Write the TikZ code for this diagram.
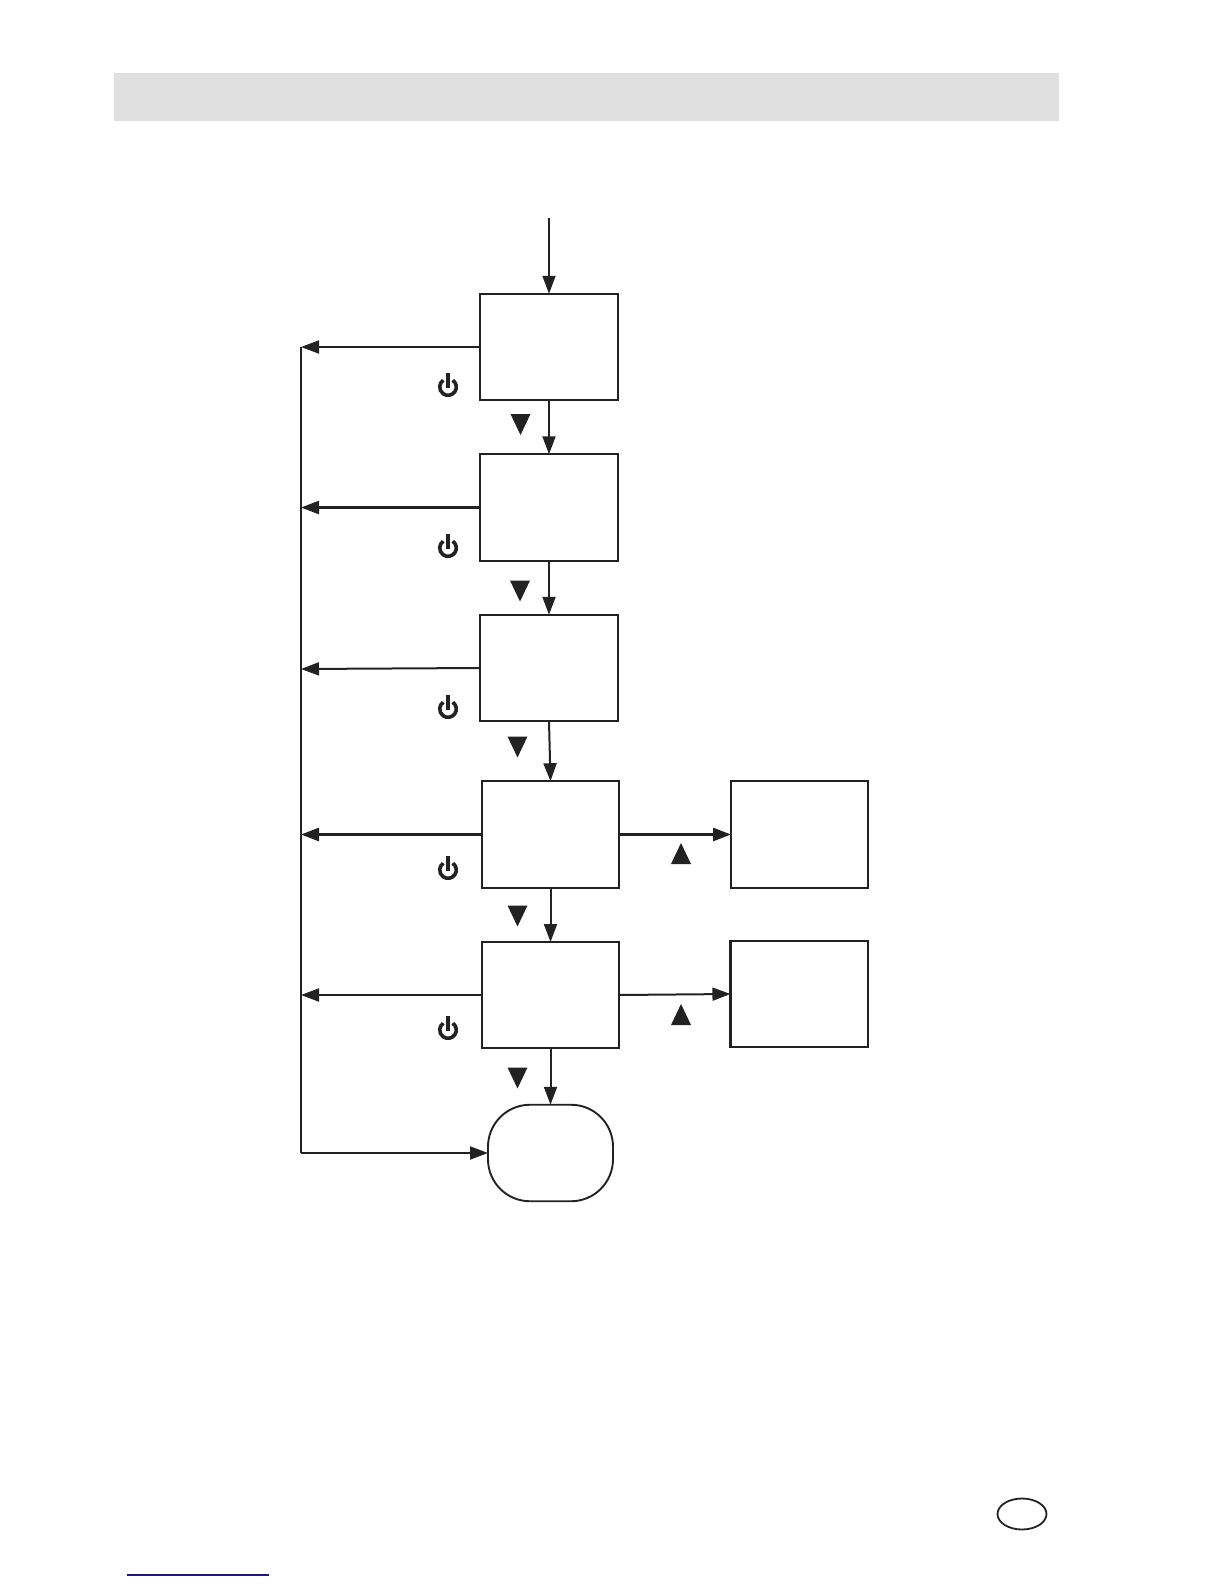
\documentclass[tikz,border=0pt]{standalone}
\usetikzlibrary{arrows.meta}
\definecolor{ink}{HTML}{222222}
\definecolor{band}{HTML}{E0E0E0}
\definecolor{linkblue}{HTML}{1A1A8C}
\tikzset{
  flowbox/.style={draw=ink,line width=1.9pt,rectangle,inner sep=0pt,outer sep=0pt,minimum width=138pt,minimum height=106.5pt},
  endbox/.style={draw=ink,line width=1.9pt,rectangle,rounded corners=42pt,inner sep=0pt,outer sep=0pt,minimum width=125pt,minimum height=96.5pt},
  conn/.style={draw=ink,line width=2pt,-{Triangle[length=18pt,width=13pt,fill=ink]}},
  thick conn/.style={conn,line width=2.8pt},
  trunk/.style={draw=ink,line width=1.7pt},
  tri/.style={fill=ink,draw=none},
  pwr/.style={draw=ink,line width=3.6pt}
}
\newcommand{\downtri}[2]{\fill[tri] (#1-10,#2-10.5) -- (#1+10,#2-10.5) -- (#1,#2+10.5) -- cycle;}
\newcommand{\uptri}[2]{\fill[tri] (#1-10,#2+10.5) -- (#1+10,#2+10.5) -- (#1,#2-10.5) -- cycle;}
\newcommand{\pwricon}[2]{%
  \draw[pwr] (#1+4.76,#2-6.8) arc[start angle=55,end angle=-235,radius=8.3pt];
  \draw[pwr] (#1,#2-14) -- (#1,#2+0.5);}
\begin{document}
\begin{tikzpicture}[x=1pt,y=-1pt]
\useasboundingbox (0,0) rectangle (1224,1584);
\fill[band] (114,73) rectangle (1059,121);

\coordinate (start) at (549,218);
\node[flowbox] (b1) at (549,347) {};
\node[flowbox] (b2) at (549,507.5) {};
\node[flowbox] (b3) at (549,668) {};
\node[flowbox,minimum width=137pt] (b4) at (550.5,834.5) {};
\node[flowbox,minimum width=137pt,minimum height=106pt] (b5) at (550.5,995) {};
\node[flowbox,minimum width=137pt] (r4) at (799.5,834.5) {};
\node[flowbox,minimum width=137.5pt,minimum height=106pt,line width=2.3pt] (r5) at (799.2,994) {};
\node[endbox] (end) at (550.5,1153) {};

\coordinate (t1) at (301,347);
\coordinate (t2) at (301,507.5);
\coordinate (t3) at (301,669);
\coordinate (t4) at (301,834.5);
\coordinate (t5) at (301,995);
\coordinate (tb) at (301,1153);

\draw[trunk] (t1) -- (tb);
\draw[conn] (tb) -- (end.west);
\draw[conn] (start) -- (b1.north);
\draw[conn] (b1.south) -- (b2.north);
\draw[conn] (b2.south) -- (b3.north);
\draw[conn] (b3.south) -- (b4.north);
\draw[conn] (b4.south) -- (b5.north);
\draw[conn] (b5.south) -- (end.north);

\draw[conn] (b1.west) -- (t1);
\draw[thick conn] (b2.west) -- (t2);
\draw[conn] (b3.west) -- (t3);
\draw[thick conn] (b4.west) -- (t4);
\draw[conn] (b5.west) -- (t5);

\draw[thick conn] (b4.east) -- (r4.west);
\draw[conn] (b5.east) -- (r5.west);

\downtri{520.5}{424.5}
\downtri{520}{591}
\downtri{517.5}{747}
\downtri{517.5}{916}
\downtri{517.5}{1078}
\uptri{681}{853.5}
\uptri{681}{1014.5}

\pwricon{448}{387}
\pwricon{448}{548}
\pwricon{448}{709}
\pwricon{448}{870}
\pwricon{448}{1030}

\draw[ink,line width=1.8pt,fill=white] (1022,1514) ellipse [x radius=24.5pt,y radius=15.5pt];
\draw[linkblue,line width=1.3pt] (127,1575) -- (269,1575);
\end{tikzpicture}
\end{document}
